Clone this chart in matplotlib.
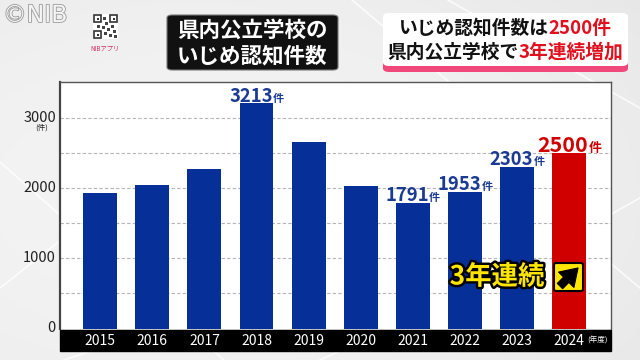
import matplotlib
matplotlib.use("Agg")
import matplotlib.pyplot as plt
import matplotlib.patheffects as pe
from matplotlib.patches import FancyBboxPatch, Rectangle, FancyArrowPatch
from matplotlib.offsetbox import TextArea, HPacker, AnnotationBbox
import matplotlib.transforms as mtransforms
import numpy as np

plt.rcParams['font.family'] = ['Noto Sans CJK JP', 'DejaVu Sans']

# ---- data ----
years = ['2015', '2016', '2017', '2018', '2019', '2020', '2021', '2022', '2023', '2024']
values = [1937, 2047, 2271, 3213, 2661, 2033, 1791, 1953, 2303, 2500]
labeled_years = ['2018', '2021', '2022', '2023', '2024']
yticks = [0, 1000, 2000, 3000]
title_lines = ['県内公立学校の', 'いじめ認知件数']
headline1 = ['いじめ認知件数は', '2500件']
headline2 = ['県内公立学校で', '3年連続増加']
badge_text = '3年連続'

BLUE = '#062f97'
RED = '#d10000'

W, H = 640, 360
fig = plt.figure(figsize=(6.4, 3.6), dpi=100)


def fx(x):
    return x / W


def fy(y):
    return 1 - y / H


# ---- background ----
bg = fig.add_axes([0, 0, 1, 1], zorder=-10)
gx, gy = np.meshgrid(np.linspace(0, 1, 200), np.linspace(0, 1, 120))
shade = 0.955 - 0.06 * ((gx - 0.3) ** 2 + (gy - 0.45) ** 2)
bg.imshow(np.dstack([shade, shade, shade]), extent=[0, 1, 0, 1], aspect='auto', origin='lower')
for (x0, y0, x1, y1) in [(0, 0.55, 0.35, 0.0), (0.0, 0.2, 0.25, 0.55), (0.55, 1.0, 0.85, 0.55),
                         (0.7, 1.0, 1.0, 0.7), (0.9, 0.35, 1.0, 0.2), (0.95, 0.4, 1.0, 0.45),
                         (0.5, 0.0, 0.6, 0.08), (0.1, 0.0, 0.2, 0.06)]:
    bg.plot([x0, x1], [y0, y1], color='white', lw=1.2, alpha=0.8)
bg.set_xlim(0, 1)
bg.set_ylim(0, 1)
bg.axis('off')

# ---- main axes ----
left, right = 60, 611
top, zero = 82, 328.5
ax = fig.add_axes([fx(left), fy(zero), fx(right - left), (zero - top) / H])
ax.set_facecolor('white')
x = np.arange(len(years))
colors = [RED if y == '2024' else BLUE for y in years]
ax.bar(x, values, width=0.65, color=colors, zorder=3)
ax.set_xlim(-0.77, len(years) - 1 + 0.8)
ax.set_ylim(0, 3520)
ax.set_yticks(np.arange(500, 3001, 500))
ax.yaxis.grid(True, color='#b5b5b5', linestyle=(0, (3, 2)), linewidth=0.8, zorder=1)
ax.set_yticklabels([])
ax.tick_params(left=False, bottom=False, labelbottom=False)
for s in ['top', 'right']:
    ax.spines[s].set_color('#555555')
    ax.spines[s].set_linewidth(1.0)
ax.spines['left'].set_color('#444444')
ax.spines['left'].set_linewidth(1.6)
ax.spines['bottom'].set_visible(False)

# y labels
ytr = mtransforms.blended_transform_factory(fig.transFigure, ax.transData)
for v in yticks:
    fig.text(fx(56), v, f'{v}', transform=ytr, ha='right', va='center', fontsize=10.5,
             color='#222222')
fig.text(fx(42), fy(128), '(件)', ha='center', va='center', fontsize=5.5, color='#222222')

# black strip with years
fig.add_artist(Rectangle((fx(left), fy(351)), fx(right - left), (351 - 330) / H,
                         transform=fig.transFigure, color='black', zorder=5))
xtr = mtransforms.blended_transform_factory(ax.transData, fig.transFigure)
for i, yr in enumerate(years):
    fig.text(i, fy(341), yr, transform=xtr, ha='center', va='center', fontsize=10,
             color='white', zorder=6)
fig.text(fx(597), fy(341), '(年度)', ha='center', va='center', fontsize=5.5, color='white', zorder=6)

# value labels
for i, (yr, v) in enumerate(zip(years, values)):
    if yr not in labeled_years:
        continue
    c = RED if yr == '2024' else '#1b3a94'
    fs = 15.5 if yr == '2024' else 13.3
    num = TextArea(f'{v}', textprops=dict(color=c, fontsize=fs, fontweight='bold'))
    unit = TextArea('件', textprops=dict(color=c, fontsize=fs * 0.6, fontweight='bold'))
    pack = HPacker(children=[num, unit], align='baseline', pad=0, sep=0)
    ab = AnnotationBbox(pack, (i, v), xybox=(0, -1.5), xycoords='data', boxcoords='offset points',
                        box_alignment=(0.5, 0), frameon=False, zorder=6)
    ax.add_artist(ab)

# badge "3年連続 ↗"
fig.text(fx(497), fy(277), badge_text, ha='center', va='center', fontsize=19, fontweight='bold',
         color='#ffe600', zorder=8,
         path_effects=[pe.withStroke(linewidth=3.5, foreground='black')])
fig.add_artist(FancyBboxPatch((fx(554), fy(291)), fx(29), 28 / H,
                              boxstyle='round,pad=0,rounding_size=0.004',
                              transform=fig.transFigure, facecolor='#ffe600', edgecolor='black',
                              linewidth=1.5, zorder=8))
fig.add_artist(FancyArrowPatch((fx(558), fy(288)), (fx(580), fy(266)),
                               transform=fig.transFigure,
                               arrowstyle='simple,head_length=1.0,head_width=1.3,tail_width=0.45',
                               mutation_scale=12, linewidth=0.8, facecolor='black',
                               edgecolor='black', zorder=9))

# ---- header ----
fig.text(fx(3), fy(15), '©NIB', ha='left', va='center', fontsize=17, color='#f4f4f4',
         family=['DejaVu Sans'], path_effects=[pe.withStroke(linewidth=1.2, foreground='#9a9a9a')])

# QR-like icon
qx, qy, qs = 93, 14, 25
fig.add_artist(Rectangle((fx(qx), fy(qy + qs)), fx(qs), qs / H, transform=fig.transFigure,
                         facecolor='white', edgecolor='none'))
for (cx, cy) in [(qx + 1, qy + 1), (qx + qs - 8, qy + 1), (qx + 1, qy + qs - 8)]:
    fig.add_artist(Rectangle((fx(cx), fy(cy + 7)), fx(7), 7 / H, transform=fig.transFigure,
                             facecolor='white', edgecolor='#333333', linewidth=1.2))
    fig.add_artist(Rectangle((fx(cx + 2.5), fy(cy + 4.5)), fx(2), 2 / H, transform=fig.transFigure,
                             facecolor='#333333', edgecolor='none'))
for (cx, cy) in [(qx + 10, qy + 3), (qx + 12, qy + 8), (qx + 9, qy + 12), (qx + 14, qy + 14),
                 (qx + 18, qy + 11), (qx + 11, qy + 18), (qx + 16, qy + 20), (qx + 20, qy + 16),
                 (qx + 4, qy + 11), (qx + 21, qy + 21)]:
    fig.add_artist(Rectangle((fx(cx), fy(cy + 2.5)), fx(2.5), 2.5 / H, transform=fig.transFigure,
                             facecolor='#444444', edgecolor='none'))
fig.text(fx(105), fy(49), 'NIBアプリ', ha='center', va='center', fontsize=4.5, color='#d0306a')

# black title box
fig.add_artist(FancyBboxPatch((fx(167), fy(70)), fx(171), 55 / H,
                              boxstyle='round,pad=0,rounding_size=0.008', transform=fig.transFigure,
                              facecolor='#111111', edgecolor='#777777', linewidth=0.8))
fig.text(fx(252), fy(30), title_lines[0], ha='center', va='center', fontsize=15.5,
         fontweight='bold', color='white')
fig.text(fx(252), fy(56), title_lines[1], ha='center', va='center', fontsize=15.5,
         fontweight='bold', color='white')

# white headline box with pink shadow
fig.add_artist(FancyBboxPatch((fx(383), fy(72)), fx(245), 56 / H,
                              boxstyle='round,pad=0,rounding_size=0.01', transform=fig.transFigure,
                              facecolor='#f0487a', edgecolor='none'))
fig.add_artist(FancyBboxPatch((fx(383), fy(66)), fx(245), 53 / H,
                              boxstyle='round,pad=0,rounding_size=0.01', transform=fig.transFigure,
                              facecolor='white', edgecolor='none'))
for (parts, yc) in [(headline1, 28), (headline2, 52)]:
    a = TextArea(parts[0], textprops=dict(color='#111111', fontsize=13.5, fontweight='bold'))
    b = TextArea(parts[1], textprops=dict(color='#e0101e', fontsize=13.5, fontweight='bold'))
    pack = HPacker(children=[a, b], align='baseline', pad=0, sep=0)
    ab = AnnotationBbox(pack, (fx(505), fy(yc)), xycoords='figure fraction',
                        box_alignment=(0.5, 0.5), frameon=False, zorder=10)
    fig.add_artist(ab)

fig.savefig('out.png', dpi=100)
